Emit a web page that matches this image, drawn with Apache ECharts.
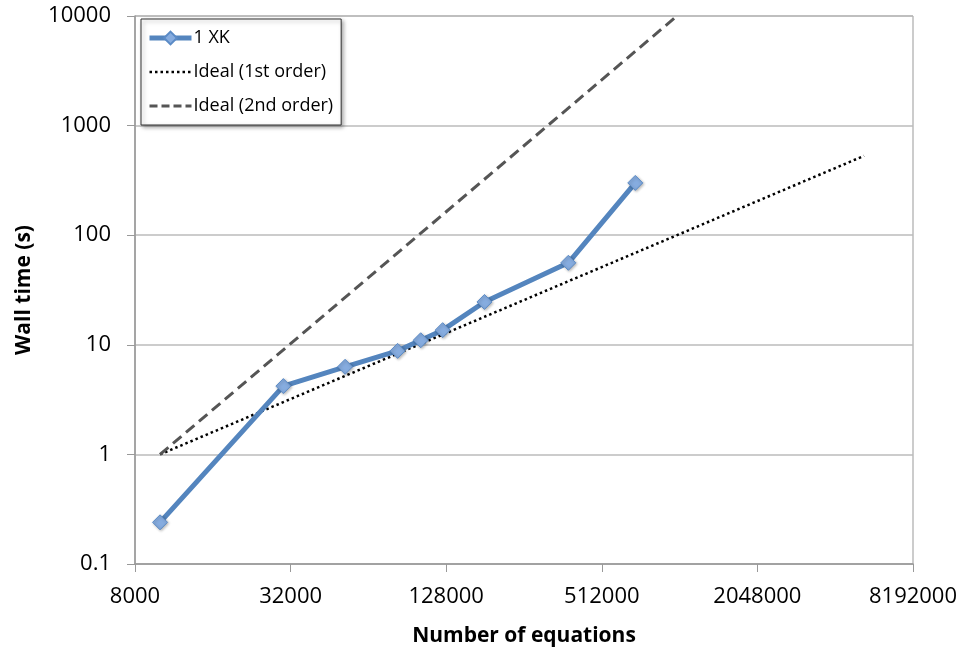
<!DOCTYPE html>
<html>
<head>
<meta charset="utf-8">
<script src="https://cdn.jsdelivr.net/npm/echarts@6/dist/echarts.min.js"></script>
<style>
  html, body { margin: 0; padding: 0; background: #fff; }
  #chart { width: 963px; height: 648px; }
</style>
</head>
<body>
<div id="chart"></div>
<script>
// measured values
var equations = [10000, 30000, 52000, 83000, 102000, 124000, 180000, 380000, 690000];
var wallTime = [0.24, 4.2, 6.3, 8.8, 11, 13.6, 24.6, 56, 300];

// ideal scaling lines (end points)
var ideal1Eq = [10000, 5300000];
var ideal1Time = [1, 530];
var ideal2Eq = [10000, 1000000];
var ideal2Time = [1, 10000];

// x axis is log base 4 starting from 8000
var xBase = 8000;

function toX(v) {
    return Math.log(v / xBase) / Math.log(4);
}
function pairs(xs, ys) {
    return xs.map(function (x, i) { return [toX(x), ys[i]]; });
}

var font = '"Open Sans", "Liberation Sans", sans-serif';
var noSymbol = { color: 'rgba(0,0,0,0)', borderColor: 'rgba(0,0,0,0)', borderWidth: 0 };
var chart = echarts.init(document.getElementById('chart'));

chart.setOption({
    animation: false,
    grid: {
        left: 135, right: 50, top: 16, bottom: 84,
        outerBoundsMode: 'none',
        show: true, borderColor: '#999', borderWidth: 1
    },
    legend: {
        orient: 'vertical',
        left: 141, top: 19,
        padding: [10, 8, 10, 6],
        itemWidth: 42, itemHeight: 16, itemGap: 16,
        backgroundColor: '#fff',
        borderColor: '#333', borderWidth: 1,
        shadowColor: 'rgba(0,0,0,0.35)', shadowBlur: 4, shadowOffsetX: 2, shadowOffsetY: 2,
        textStyle: { fontFamily: font, fontSize: 18, color: '#000', padding: [0, 0, 0, -3] },
        data: [
            { name: '1 XK', lineStyle: { width: 5 } },
            { name: 'Ideal (1st order)', itemStyle: noSymbol, lineStyle: { width: 2.5, type: [2.5, 3] } },
            { name: 'Ideal (2nd order)', itemStyle: noSymbol, lineStyle: { width: 3, type: [8, 4] } }
        ]
    },
    xAxis: {
        type: 'value',
        min: 0, max: 5, interval: 1,
        name: 'Number of equations',
        nameLocation: 'middle', nameGap: 62,
        nameTextStyle: { fontFamily: font, fontSize: 21, fontWeight: 'bold', color: '#000' },
        axisLine: { lineStyle: { color: '#999', width: 1.5 } },
        axisTick: { show: true, length: 8, lineStyle: { color: '#999' } },
        splitLine: { show: false },
        axisLabel: {
            fontFamily: font, fontSize: 22, color: '#000', margin: 22,
            formatter: function (v) { return String(Math.round(xBase * Math.pow(4, v))); }
        }
    },
    yAxis: {
        type: 'log', logBase: 10,
        min: 0.1, max: 10000,
        name: 'Wall time (s)',
        nameLocation: 'middle', nameGap: 100,
        nameTextStyle: { fontFamily: font, fontSize: 21, fontWeight: 'bold', color: '#000' },
        axisLine: { show: true, lineStyle: { color: '#999', width: 1.5 } },
        axisTick: { show: true, length: 8, lineStyle: { color: '#999' } },
        splitLine: { show: true, lineStyle: { color: '#bbb', width: 1.5 } },
        minorTick: { show: false },
        axisLabel: {
            fontFamily: font, fontSize: 22, color: '#000', margin: 24,
            formatter: function (v) { return String(+v.toPrecision(3)); }
        }
    },
    series: [
        {
            name: '1 XK',
            type: 'line',
            data: pairs(equations, wallTime),
            symbol: 'diamond',
            symbolSize: 15,
            z: 5,
            lineStyle: { color: '#5485be', width: 5 },
            itemStyle: {
                color: '#86acdf', borderColor: '#5b8bc6', borderWidth: 1,
                shadowColor: 'rgba(0,0,0,0.3)', shadowBlur: 3, shadowOffsetX: 1, shadowOffsetY: 1
            }
        },
        {
            name: 'Ideal (1st order)',
            type: 'line',
            data: pairs(ideal1Eq, ideal1Time),
            symbol: 'none',
            lineStyle: { color: '#000', width: 2.5, type: [2.5, 3] },
            itemStyle: { color: '#000' }
        },
        {
            name: 'Ideal (2nd order)',
            type: 'line',
            data: pairs(ideal2Eq, ideal2Time),
            symbol: 'none',
            lineStyle: { color: '#555', width: 3, type: [11, 6] },
            itemStyle: { color: '#555' }
        }
    ]
});
</script>
</body>
</html>
